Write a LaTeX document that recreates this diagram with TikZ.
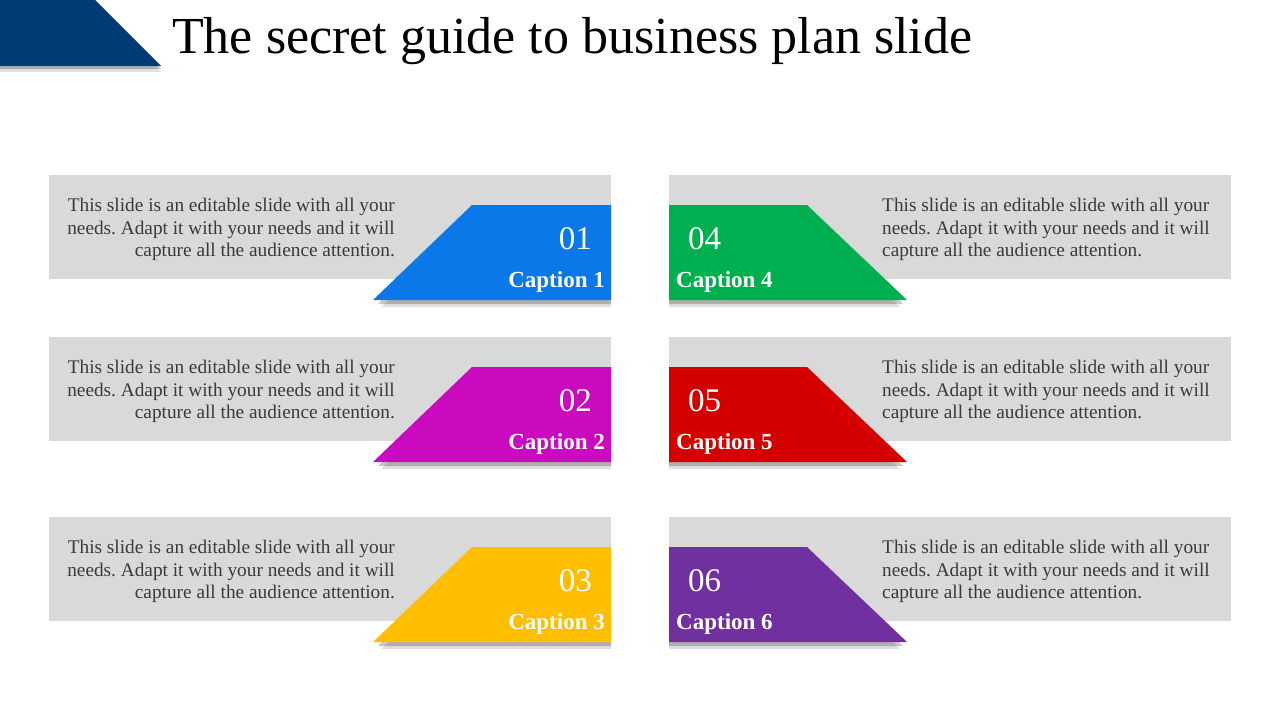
\documentclass[tikz,border=0pt]{standalone}
\usepackage{fontspec}
\setmainfont{Liberation Serif}
\frenchspacing
\definecolor{panelgray}{HTML}{D9D9D9}
\definecolor{txtgray}{HTML}{3A3A3A}
\definecolor{navy}{HTML}{033C74}
\definecolor{cblue}{HTML}{0A78E8}
\definecolor{cgreen}{HTML}{00AF50}
\definecolor{cmagenta}{HTML}{C90ABF}
\definecolor{cred}{HTML}{D40000}
\definecolor{cyellow}{HTML}{FFBF00}
\definecolor{cpurple}{HTML}{7030A0}
\begin{document}
\begin{tikzpicture}[x=1pt,y=-1pt,
  panel/.style={fill=panelgray,draw=none},
  body/.style={font=\fontsize{19.3}{22.5}\selectfont,text=txtgray,inner sep=0pt},
  numtxt/.style={font=\fontsize{33}{33}\selectfont,text=white,inner sep=0pt},
  captxt/.style={font=\fontsize{23}{23}\selectfont\bfseries,text=white,inner sep=0pt},
  shade1/.style={fill=black,opacity=0.22,draw=none},
  shade2/.style={fill=black,opacity=0.12,draw=none}]
\useasboundingbox (0,0) rectangle (1280,720);
% top-left banner
\fill[shade2] (0,6) -- (95,6) -- (161,72) -- (0,72) -- cycle;
\fill[shade1] (0,3) -- (95,3) -- (161,69) -- (0,69) -- cycle;
\fill[navy] (0,0) -- (95,0) -- (161,66) -- (0,66) -- cycle;
\node[anchor=base west,inner sep=0pt,font=\fontsize{52}{52}\selectfont] (title) at (172,53) {The secret guide to business plan slide};
\foreach \r/\dy/\la/\lc/\lcol/\ra/\rc/\rcol in {
  1/0/01/Caption 1/cblue/04/Caption 4/cgreen,
  2/162/02/Caption 2/cmagenta/05/Caption 5/cred,
  3/342/03/Caption 3/cyellow/06/Caption 6/cpurple}{
  \begin{scope}[yshift=-\dy pt]
  % grey panels
  \fill[panel] (49,175) rectangle (611,279);
  \fill[panel] (669,175) rectangle (1231,279);
  % shadows
  \fill[shade2] (478,211) -- (611,211) -- (611,307) -- (381,307) -- cycle;
  \fill[shade1] (476,208) -- (611,208) -- (611,304) -- (378,304) -- cycle;
  \fill[shade2] (669,211) -- (802,211) -- (900,307) -- (669,307) -- cycle;
  \fill[shade1] (669,208) -- (805,208) -- (903,304) -- (669,304) -- cycle;
  % tabs
  \fill[\lcol] (472,205) -- (611,205) -- (611,300) -- (373,300) -- cycle;
  \fill[\rcol] (669,205) -- (807,205) -- (907,300) -- (669,300) -- cycle;
  % texts
  \node[body,anchor=north east,align=right] (ltext\r) at (395,198)
    {This slide is an editable slide with all your\\needs. Adapt it with your needs and it will\\capture all the audience attention.};
  \node[body,anchor=north west,align=left] (rtext\r) at (882,198)
    {This slide is an editable slide with all your\\needs. Adapt it with your needs and it will\\capture all the audience attention.};
  \node[numtxt,anchor=base east] (lnum\r) at (592,249) {\la};
  \node[captxt,anchor=base east] (lcap\r) at (605,287) {\lc};
  \node[numtxt,anchor=base west] (rnum\r) at (688,249) {\ra};
  \node[captxt,anchor=base west] (rcap\r) at (676,287) {\rc};
  \end{scope}
}
\end{tikzpicture}
\end{document}
